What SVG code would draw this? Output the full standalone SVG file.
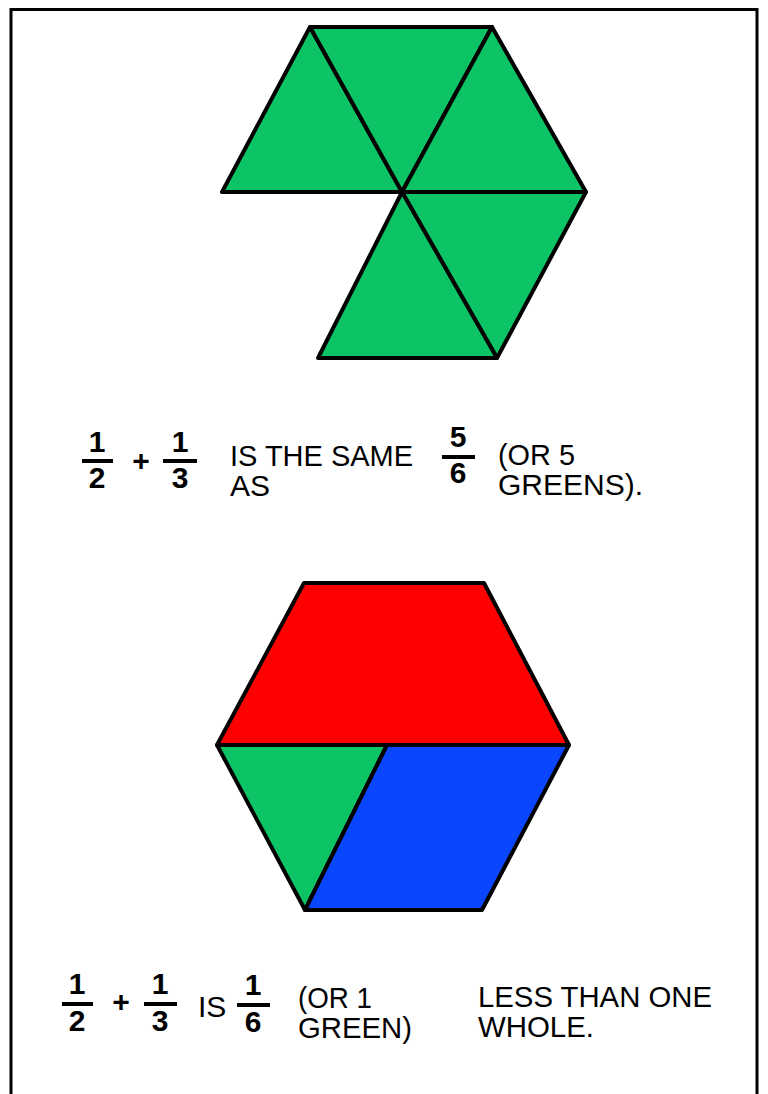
<svg xmlns="http://www.w3.org/2000/svg" width="768" height="1094" viewBox="0 0 768 1094">
<style>
.g{fill:#0cc466;stroke:#000;stroke-width:4;stroke-linejoin:round}
.r{fill:#ff0000;stroke:#000;stroke-width:4;stroke-linejoin:round}
.b{fill:#0a46ff;stroke:#000;stroke-width:4;stroke-linejoin:round}
.t{font-family:"Liberation Sans",Arial,sans-serif;font-size:30px;fill:#000}
.d{font-family:"Liberation Sans",Arial,sans-serif;font-size:30px;font-weight:bold;fill:#000;text-anchor:middle}
.bar{fill:#000}
</style>
<rect width="768" height="1094" fill="#fff"/>
<path d="M11 1094V9.5H757V1094" fill="none" stroke="#000" stroke-width="3"/>
<g id="top-shape">
<polygon id="tri1" class="g" points="310,27 222,192 402,192"/>
<polygon id="tri2" class="g" points="310,27 492,27 402,192"/>
<polygon id="tri3" class="g" points="492,27 586,192 402,192"/>
<polygon id="tri4" class="g" points="402,192 586,192 497,358"/>
<polygon id="tri5" class="g" points="402,192 497,358 318,358"/>
</g>
<g id="bottom-shape">
<polygon id="red-trapezoid" class="r" points="304,583 484,583 569,745 217,745"/>
<polygon id="green-triangle" class="g" points="217,745 387,745 305,910"/>
<polygon id="blue-rhombus" class="b" points="387,745 569,745 482,910 305,910"/>
</g>
<g id="connectors"/>
<g id="caption1">
<text class="d" x="97" y="452">1</text><rect class="bar" x="82" y="459" width="31" height="4"/><text class="d" x="97" y="488">2</text>
<text class="d" x="141" y="471" font-size="32">+</text>
<text class="d" x="180" y="452">1</text><rect class="bar" x="163" y="459" width="34" height="4"/><text class="d" x="180" y="488">3</text>
<text class="t" x="230" y="466" textLength="183" lengthAdjust="spacingAndGlyphs">IS THE SAME</text>
<text class="t" x="230" y="496">AS</text>
<text class="d" x="458" y="447">5</text><rect class="bar" x="442" y="455" width="33" height="4"/><text class="d" x="458" y="483">6</text>
<text class="t" x="498" y="465" textLength="77" lengthAdjust="spacingAndGlyphs">(OR 5</text>
<text class="t" x="498" y="495" textLength="145" lengthAdjust="spacingAndGlyphs">GREENS).</text>
</g>
<g id="caption2">
<text class="d" x="77" y="994">1</text><rect class="bar" x="62" y="1002" width="31" height="4"/><text class="d" x="77" y="1031">2</text>
<text class="d" x="121" y="1012" font-size="32">+</text>
<text class="d" x="160" y="994">1</text><rect class="bar" x="144" y="1002" width="33" height="4"/><text class="d" x="160" y="1031">3</text>
<text class="t" x="198" y="1017">IS</text>
<text class="d" x="253" y="995">1</text><rect class="bar" x="237" y="1003" width="33" height="4"/><text class="d" x="253" y="1032">6</text>
<text class="t" x="298" y="1008" textLength="74" lengthAdjust="spacingAndGlyphs">(OR 1</text>
<text class="t" x="298" y="1038" textLength="114" lengthAdjust="spacingAndGlyphs">GREEN)</text>
<text class="t" x="478" y="1007" textLength="234" lengthAdjust="spacingAndGlyphs">LESS THAN ONE</text>
<text class="t" x="478" y="1037" textLength="116" lengthAdjust="spacingAndGlyphs">WHOLE.</text>
</g>
</svg>
